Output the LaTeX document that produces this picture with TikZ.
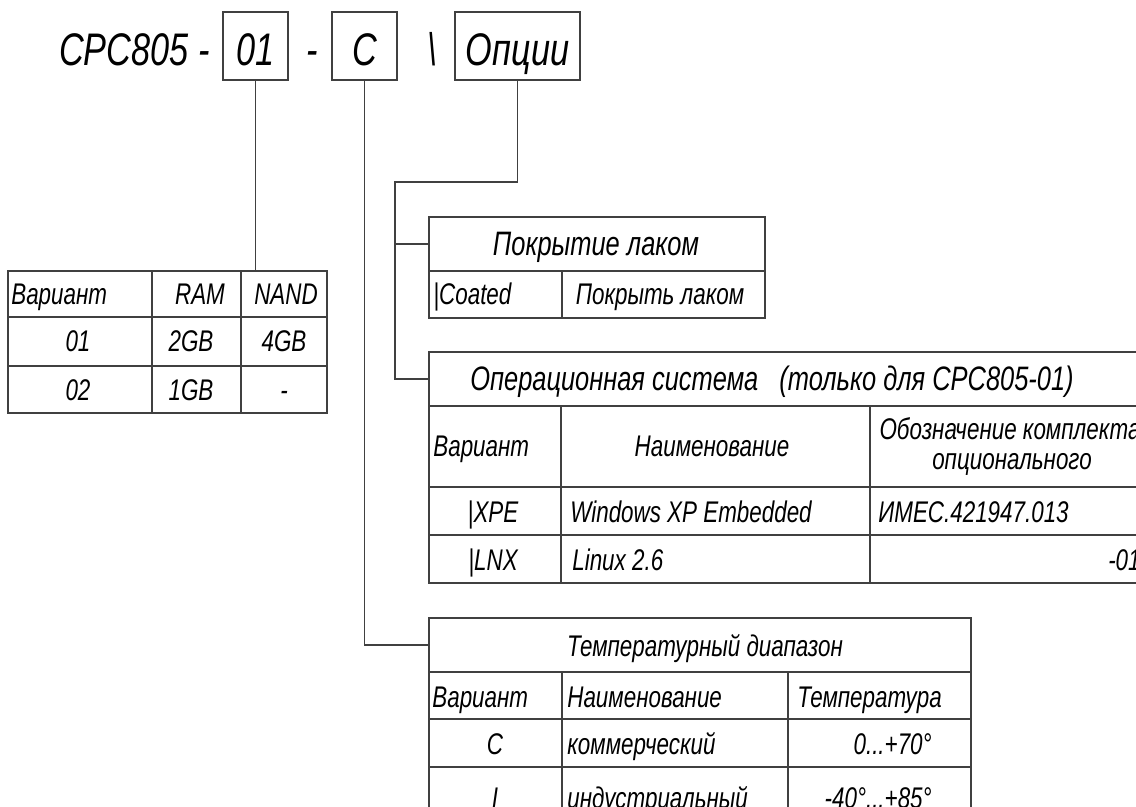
\documentclass[tikz,border=0pt]{standalone}
\usepackage{fontspec}
\setmainfont{Liberation Sans}[FakeStretch=0.75]
\usetikzlibrary{fit}

\tikzset{
  rule/.style={draw=black!75, line width=0.7pt},
  frame/.style={rule, inner sep=0pt},
  ttl/.style={font=\fontsize{26}{30}\selectfont\itshape, inner sep=0pt},
  head/.style={font=\fontsize{19.3}{23}\selectfont\itshape, inner sep=0pt},
  cell/.style={font=\fontsize{17}{20}\selectfont\itshape, inner sep=0pt},
}

\begin{document}
\begin{tikzpicture}[x=0.02cm, y=-0.02cm]
  \useasboundingbox (0,0) rectangle (1136,807);
  \clip (0,0) rectangle (1136,807);

  % designation line
  \node[ttl, anchor=base east] (code) at (210,66) {CPC805 -};
  \node[frame, fit={(223,12) (288,80)}] (v01) {};
  \node[ttl, anchor=base] (t01) at (255.5,66) {01};
  \node[ttl, anchor=base] (dash) at (312,66) {-};
  \node[frame, fit={(332,12) (397,80)}] (vC) {};
  \node[ttl, anchor=base] (tC) at (364.5,66) {C};
  \node[ttl, anchor=base] (bsl) at (432,66) {\textbackslash};
  \node[frame, fit={(455,12) (580,80)}] (vOpt) {};
  \node[ttl, anchor=base] (tOpt) at (517.5,66) {Опции};

  % memory table
  \node[frame, fit={(8,271) (327,413)}] (mem) {};
  \draw[rule] (8,317) -- (327,317) (8,366) -- (327,366)
              (152,271) -- (152,413) (241,271) -- (241,413);
  \node[cell, anchor=base west] (memV) at (11,305) {Вариант};
  \node[cell, anchor=base] (memR) at (200,305) {RAM};
  \node[cell, anchor=base] (memN) at (286,305) {NAND};
  \foreach \y/\v/\r/\n in {352/01/2GB/4GB, 400/02/1GB/-}{
    \node[cell, anchor=base] (mv\v) at (78,\y) {\v};
    \node[cell, anchor=base] (mr\v) at (191,\y) {\r};
    \node[cell, anchor=base] (mn\v) at (284,\y) {\n};
  }

  % coating table
  \node[frame, fit={(429,217) (765,271)}] (coatH) {};
  \node[head, anchor=base] (coatT) at (596,256) {Покрытие лаком};
  \node[frame, fit={(429,271) (765,318)}] (coatB) {};
  \draw[rule] (562,271) -- (562,318);
  \node[cell, anchor=base west] (coatV) at (433,305) {|Coated};
  \node[cell, anchor=base] (coatN) at (660,305) {Покрыть лаком};

  % operating system table
  \node[frame, fit={(429,352) (1156,406)}] (osH) {};
  \node[head, anchor=base west] (osT) at (470,391) {Операционная система\hspace{12pt}(только для CPC805-01)};
  \node[frame, fit={(429,406) (1156,583)}] (osB) {};
  \draw[rule] (429,487) -- (1156,487) (429,535) -- (1156,535)
              (561,406) -- (561,583) (870,406) -- (870,583);
  \node[cell, anchor=base west] (osV) at (433,457) {Вариант};
  \node[cell, anchor=base] (osN) at (712,457) {Наименование};
  \node[cell, anchor=base] (osD1) at (1010,439) {Обозначение комплекта};
  \node[cell, anchor=base] (osD2) at (1012,469) {опционального};
  \node[cell, anchor=base] (osXV) at (493,522) {|XPE};
  \node[cell, anchor=base west] (osXN) at (570,522) {Windows XP Embedded};
  \node[cell, anchor=base west] (osXD) at (878,522) {ИМЕС.421947.013};
  \node[cell, anchor=base] (osLV) at (493,570) {|LNX};
  \node[cell, anchor=base west] (osLN) at (572,570) {Linux 2.6};
  \node[cell, anchor=base east] (osLD) at (1141,570) {-01};

  % temperature table
  \node[frame, fit={(429,618) (971,672)}] (tmpH) {};
  \node[cell, anchor=base] (tmpT) at (705,656) {Температурный диапазон};
  \node[frame, fit={(429,672) (971,830)}] (tmpB) {};
  \draw[rule] (429,719) -- (971,719) (429,767) -- (971,767)
              (562,672) -- (562,830) (788,672) -- (788,830);
  \node[cell, anchor=base west] (tmpV) at (432,707) {Вариант};
  \node[cell, anchor=base west] (tmpN) at (567,707) {Наименование};
  \node[cell, anchor=base west] (tmpD) at (797,707) {Температура};
  \node[cell, anchor=base] (tvC) at (495,754) {C};
  \node[cell, anchor=base west] (tnC) at (567,754) {коммерческий};
  \node[cell, anchor=base east] (ttC) at (932,754) {0...+70°};
  \node[cell, anchor=base] (tvI) at (495,808) {I};
  \node[cell, anchor=base west] (tnI) at (567,808) {индустриальный};
  \node[cell, anchor=base east] (ttI) at (932,808) {-40°...+85°};

  % connectors
  \coordinate (fork) at (395,182);
  \draw[rule] (v01.south) -- (v01.south |- mem.north);
  \draw[rule] (vC.south) |- (tmpH.west);
  \draw[rule] (vOpt.south) |- (fork) |- (osH.west);
  \draw[rule] (fork |- coatH.west) -- (coatH.west);
\end{tikzpicture}
\end{document}
